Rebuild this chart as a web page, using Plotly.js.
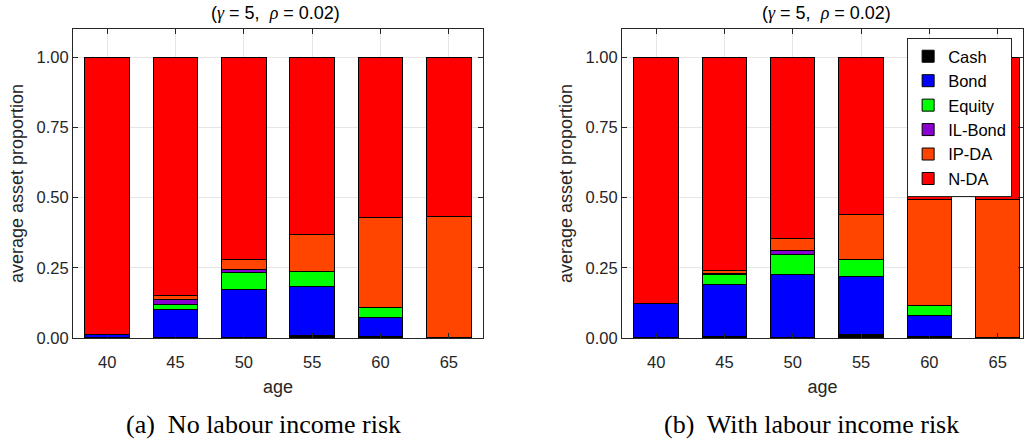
<!DOCTYPE html>
<html>
<head>
<meta charset="utf-8">
<script src="https://cdn.plot.ly/plotly-3.0.1.min.js"></script>
<style>
html,body{margin:0;padding:0;background:#fff;}
#chart{width:1025px;height:439px;}
</style>
</head>
<body>
<div id="chart"></div>
<script>
// ---- data ----
const ages = ['40', '45', '50', '55', '60', '65'];
const assetNames = ['Cash', 'Bond', 'Equity', 'IL-Bond', 'IP-DA', 'N-DA'];
const assetColors = ['#000000', '#0000ff', '#00ff00', '#8a00d0', '#ff4500', '#ff0000'];

// (a) No labour income risk
const cashA   = [0.000, 0.000, 0.002, 0.009, 0.007, 0.000];
const bondA   = [0.012, 0.100, 0.169, 0.174, 0.067, 0.000];
const equityA = [0.000, 0.019, 0.063, 0.053, 0.034, 0.000];
const ilbondA = [0.000, 0.019, 0.010, 0.002, 0.000, 0.000];
const ipdaA   = [0.000, 0.015, 0.034, 0.131, 0.322, 0.432];
const ndaA    = [0.988, 0.847, 0.722, 0.631, 0.570, 0.568];

// (b) With labour income risk
const cashB   = [0.000, 0.007, 0.002, 0.013, 0.006, 0.000];
const bondB   = [0.124, 0.182, 0.223, 0.206, 0.075, 0.000];
const equityB = [0.000, 0.038, 0.073, 0.059, 0.035, 0.000];
const ilbondB = [0.000, 0.002, 0.014, 0.000, 0.000, 0.000];
const ipdaB   = [0.000, 0.013, 0.043, 0.162, 0.378, 0.494];
const ndaB    = [0.876, 0.758, 0.645, 0.560, 0.506, 0.506];

const mathSpan = s => '<span style="font-family:Liberation Serif, serif"><i>' + s + '</i></span>';
const panelTitle = '(' + mathSpan('γ') + ' = 5,  ' + mathSpan('ρ') + ' = 0.02)';
const captionA = '(a)  No labour income risk';
const captionB = '(b)  With labour income risk';
const xTitle = 'age';
const yTitle = 'average asset proportion';
const yTicks = [0, 0.25, 0.5, 0.75, 1.0];

// ---- build ----
const seriesA = [cashA, bondA, equityA, ilbondA, ipdaA, ndaA];
const seriesB = [cashB, bondB, equityB, ilbondB, ipdaB, ndaB];
const traces = [];
seriesA.forEach((vals, i) => traces.push({
  type: 'bar', x: ages, y: vals, name: assetNames[i], xaxis: 'x', yaxis: 'y',
  marker: {color: assetColors[i], line: {color: '#000000', width: 1}},
  showlegend: false, hoverinfo: 'x+y+name'
}));
seriesB.forEach((vals, i) => traces.push({
  type: 'bar', x: ages, y: vals, name: assetNames[i], xaxis: 'x2', yaxis: 'y2',
  marker: {color: assetColors[i], line: {color: '#000000', width: 1}},
  showlegend: true, hoverinfo: 'x+y+name'
}));

const axColor = '#262626';
const tickFont = {family: 'Liberation Sans, Arial, sans-serif', size: 16.5, color: axColor};
const titleFont = {family: 'Liberation Sans, Arial, sans-serif', size: 18, color: axColor};

function xAxis(domain, range, anchor) {
  return {
    domain: domain, anchor: anchor, type: 'category', range: range,
    showline: true, linecolor: axColor, linewidth: 1, mirror: 'ticks',
    ticks: 'inside', ticklen: 5, tickcolor: axColor,
    showgrid: true, gridcolor: '#e6e6e6', zeroline: false,
    tickfont: tickFont, fixedrange: true, ticklabelstandoff: 9,
    title: {text: xTitle, font: titleFont, standoff: 10}
  };
}
function yAxis(domain, anchor) {
  return {
    domain: domain, anchor: anchor, range: [0, 1.1],
    tickvals: yTicks, tickformat: '.2f',
    showline: true, linecolor: axColor, linewidth: 1, mirror: 'ticks',
    ticks: 'inside', ticklen: 5, tickcolor: axColor,
    showgrid: true, gridcolor: '#e6e6e6', zeroline: false,
    tickfont: tickFont, fixedrange: true,
    title: {text: yTitle, font: titleFont, standoff: 8}
  };
}

const yDom = [0.2301, 0.9339];
const layout = {
  width: 1025, height: 439,
  margin: {l: 0, r: 0, t: 0, b: 0},
  paper_bgcolor: '#ffffff', plot_bgcolor: '#ffffff',
  barmode: 'stack', bargap: 0.35,
  xaxis: xAxis([0.0712, 0.4712], [-0.5, 5.5], 'y'),
  yaxis: yAxis(yDom, 'x'),
  xaxis2: xAxis([0.6068, 0.998], [-0.5, 5.37], 'y2'),
  yaxis2: yAxis(yDom, 'x2'),
  showlegend: true,
  legend: {
    x: 0.885, y: 1 - 38/439, xanchor: 'left', yanchor: 'top',
    traceorder: 'normal', bgcolor: '#ffffff',
    bordercolor: axColor, borderwidth: 1,
    font: {family: 'Liberation Sans, Arial, sans-serif', size: 16.5, color: '#000000'},
    itemwidth: 30
  },
  annotations: [
    {text: panelTitle, xref: 'paper', yref: 'paper', x: 0.2683, y: 0.970, xanchor: 'center', yanchor: 'middle',
     showarrow: false, font: {family: 'Liberation Sans, Arial, sans-serif', size: 18, color: '#000000'}},
    {text: panelTitle, xref: 'paper', yref: 'paper', x: 0.806, y: 0.970, xanchor: 'center', yanchor: 'middle',
     showarrow: false, font: {family: 'Liberation Sans, Arial, sans-serif', size: 18, color: '#000000'}},
    {text: captionA, xref: 'paper', yref: 'paper', x: 0.2566, y: 1 - 424/439, xanchor: 'center', yanchor: 'middle',
     showarrow: false, font: {family: 'Liberation Serif, Times New Roman, serif', size: 26, color: '#000000'}},
    {text: captionB, xref: 'paper', yref: 'paper', x: 0.792, y: 1 - 424/439, xanchor: 'center', yanchor: 'middle',
     showarrow: false, font: {family: 'Liberation Serif, Times New Roman, serif', size: 26, color: '#000000'}}
  ]
};

Plotly.newPlot('chart', traces, layout, {displayModeBar: false, staticPlot: false});
</script>
</body>
</html>
